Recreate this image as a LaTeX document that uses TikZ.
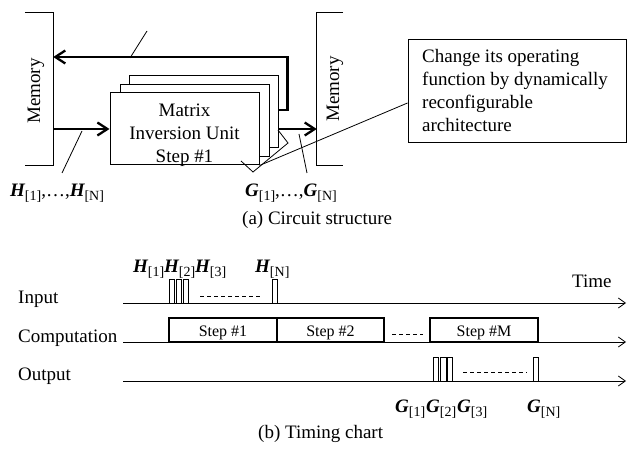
\documentclass[tikz,border=0pt]{standalone}
\usepackage{fontspec}
\setmainfont{Liberation Serif}
\usetikzlibrary{arrows.meta,calc}
\newcommand{\vsub}[2]{{\bfseries\itshape #1}\raisebox{-4pt}{\fontsize{14}{14}\selectfont #2}}
\begin{document}
\begin{tikzpicture}[x=1pt,y=-1pt,
  every node/.style={font=\fontsize{19}{23}\selectfont, inner sep=0pt},
  thickarrow/.style={line width=2.3pt,-{Straight Barb[length=10pt,width=13pt]}},
  tline/.style={line width=0.8pt,-{Straight Barb[length=7pt,width=10pt]}},
  unitbox/.style={draw,fill=white,line width=1pt,minimum width=149pt,minimum height=72pt},
  bracket/.style={line width=1pt},
  leader/.style={line width=0.8pt},
  stepbox/.style={draw,line width=1.8pt,minimum height=24pt,text height=14pt,text depth=0pt,font=\fontsize{16}{18}\selectfont},
  pulse/.style={line width=0.9pt},
  dashline/.style={line width=0.8pt,dash pattern=on 4pt off 3pt},
]
\useasboundingbox (0,0) rectangle (627,449);

% ---------- (a) circuit structure ----------
\node[minimum width=28pt,minimum height=152pt] (memL) at (39,89) {};
\draw[bracket] (memL.north west) -- (memL.north east) -- (memL.south east) -- (memL.south west);
\node[rotate=90] (memLt) at (36,91) {Memory};

\node[minimum width=26pt,minimum height=152pt] (memR) at (330,89) {};
\draw[bracket] (memR.north east) -- (memR.north west) -- (memR.south west) -- (memR.south east);
\node[rotate=90] (memRt) at (335,89) {Memory};

\node[unitbox] (u3) at (203.5,111.5) {};
\node[unitbox] (u2) at (194.5,121) {};
\node[unitbox] (u1) at (184.5,129) {};
\node[align=center] (u1t) at (184.5,135) {Matrix\\Inversion Unit\\Step \#1};

% arrows
\draw[thickarrow] ([yshift=1.5pt]u3.east) -- ++(9,0) |- (memL.east |- 0,57);
\draw[thickarrow] (memL.east |- u1.west) -- (u1.west);
\draw[thickarrow] (u3.east |- u1.west) -- (memR.west |- u1.west);

% leader slashes
\draw[leader] (130,58) -- (147,31);
\draw[leader] (82,131) -- (62,173);
\draw[leader] (299,134) -- (307,173);

% callout
\node[draw,line width=1pt,minimum width=218pt,minimum height=103pt] (call) at (517,91.5) {};
\node[align=left,anchor=west] (callt) at (422,91) {Change its operating\\function by dynamically\\reconfigurable\\architecture};
\draw[leader] (241,161) -- (253,172) -- (288,143) -- (278,130);
\draw[leader] (u1.south east) -- ([yshift=-11.5pt]call.west);

% labels
\node[anchor=base west] (hlab) at (10,197) {\vsub{H}{[1]},…,\vsub{H}{[N]}};
\node[anchor=base west] (glab) at (245,197) {\vsub{G}{[1]},…,\vsub{G}{[N]}};
\node[anchor=base west] (capa) at (242,225) {(a) Circuit structure};

% ---------- (b) timing chart ----------
\node[anchor=base west] (lin) at (18,304) {Input};
\node[anchor=base west] (lcomp) at (18,342) {Computation};
\node[anchor=base west] (lout) at (18,380) {Output};
\node[anchor=base west] (ltime) at (572,288) {Time};

\coordinate (inS) at (123,303);   \coordinate (inE) at (626,303);
\coordinate (cS) at (123,342);    \coordinate (cE) at (626,342);
\coordinate (oS) at (123,381);    \coordinate (oE) at (626,381);
\draw[tline] (inS) -- (inE);
\draw[tline] (cS) -- (cE);
\draw[tline] (oS) -- (oE);

% input pulses
\draw[pulse] (169,279) rectangle (174,303);
\draw[pulse] (176,279) rectangle (181,303);
\draw[pulse] (183,279) rectangle (188,303);
\draw[pulse] (272,279) rectangle (277,303);
\draw[dashline] (200,296) -- (262,296);
\node[anchor=base west] (h1) at (133,273) {\vsub{H}{[1]}};
\node[anchor=base west] (h2) at (164,273) {\vsub{H}{[2]}};
\node[anchor=base west] (h3) at (195,273) {\vsub{H}{[3]}};
\node[anchor=base west] (hN) at (255,273) {\vsub{H}{[N]}};

% computation
\node[stepbox,minimum width=108pt] (s1) at (223,330) {Step \#1};
\node[stepbox,minimum width=107pt] (s2) at (330.5,330) {Step \#2};
\node[stepbox,minimum width=108pt] (sM) at (484,330) {Step \#M};
\draw[dashline] (392,334) -- (423,334);

% output pulses
\draw[pulse] (433,357) rectangle (438,381);
\draw[pulse] (440,357) rectangle (446,381);
\draw[pulse] (447,357) rectangle (452,381);
\draw[pulse] (533,357) rectangle (538,381);
\draw[dashline] (463,372) -- (527,372);
\node[anchor=base west] (g1) at (395,412) {\vsub{G}{[1]}};
\node[anchor=base west] (g2) at (426,412) {\vsub{G}{[2]}};
\node[anchor=base west] (g3) at (457,412) {\vsub{G}{[3]}};
\node[anchor=base west] (gN) at (527,412) {\vsub{G}{[N]}};

\node[anchor=base west] (capb) at (258,438) {(b) Timing chart};
\end{tikzpicture}
\end{document}
